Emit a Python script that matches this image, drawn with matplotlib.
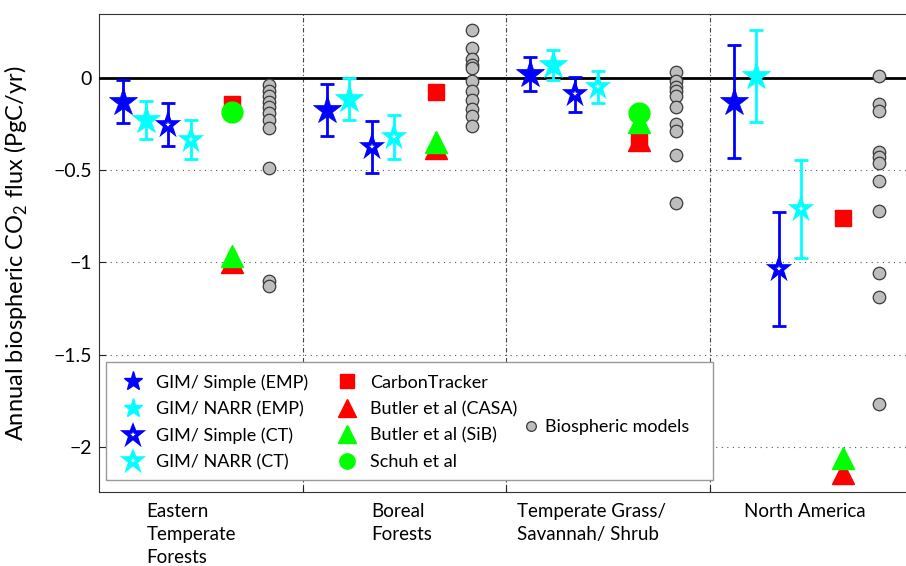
import numpy as np
import matplotlib
matplotlib.use('Agg')
import matplotlib.pyplot as plt
from matplotlib.lines import Line2D
from matplotlib.markers import MarkerStyle
from matplotlib.patches import Rectangle

plt.rcParams['font.family'] = ['Lato', 'DejaVu Sans']
plt.rcParams['mathtext.fontset'] = 'custom'
plt.rcParams['mathtext.rm'] = 'Lato'

# Regions along the x axis
regions = ["Eastern\nTemperate\nForests", "Boreal\nForests",
           "Temperate Grass/\nSavannah/ Shrub", "North America"]

# GIM estimates and their uncertainties (PgC/yr)
simple_emp = [-0.13, -0.175, 0.02, -0.13]
simple_emp_err = [0.115, 0.14, 0.093, 0.305]
narr_emp = [-0.23, -0.115, 0.07, 0.01]
narr_emp_err = [0.103, 0.113, 0.08, 0.25]
simple_ct = [-0.255, -0.375, -0.09, -1.035]
simple_ct_err = [0.117, 0.142, 0.095, 0.31]
narr_ct = [-0.335, -0.32, -0.05, -0.71]
narr_ct_err = [0.108, 0.12, 0.085, 0.266]

# Other inversions
carbontracker = [-0.14, -0.08, -0.34, -0.76]
butler_casa = [-1.0, -0.38, -0.34, -2.14]
butler_sib = [-0.965, -0.35, -0.24, -2.06]
schuh = [-0.185, np.nan, -0.19, np.nan]

# Biospheric models, one list per region
models_etf = [-0.04, -0.07, -0.10, -0.13, -0.16, -0.19, -0.23, -0.27, -0.49, -1.10, -1.13]
models_bf = [0.26, 0.16, 0.10, 0.07, 0.05, -0.02, -0.07, -0.12, -0.17, -0.21, -0.26]
models_tg = [0.03, -0.02, -0.05, -0.07, -0.10, -0.16, -0.25, -0.29, -0.42, -0.68]
models_na = [0.01, -0.14, -0.18, -0.40, -0.43, -0.46, -0.56, -0.72, -1.06, -1.19, -1.77]
models = [models_etf, models_bf, models_tg, models_na]

yticks = [0, -0.5, -1, -1.5, -2]
ytick_labels = ["0", "\u22120.5", "\u22121", "\u22121.5", "\u22122"]

W, H = 906, 566
fig = plt.figure(figsize=(W/100, H/100), dpi=100)
ax = fig.add_axes([99/W, 74/H, (W-99)/W, 478/H])

base = np.arange(len(regions))
BLUE, CYAN, RED, GREEN = '#0000ff', '#00ffff', '#ff0000', '#00ff00'
star = MarkerStyle('*', joinstyle='miter')

# GIM series: (values, errors, colour, filled?, offset)
gim = [(simple_emp, simple_emp_err, BLUE, True, 0.12),
       (narr_emp, narr_emp_err, CYAN, True, 0.23),
       (simple_ct, simple_ct_err, BLUE, False, 0.34),
       (narr_ct, narr_ct_err, CYAN, False, 0.45)]
for vals, errs, col, filled, off in gim:
    ax.errorbar(base + off, vals, yerr=errs, fmt='none', ecolor=col,
                elinewidth=2, capsize=5, capthick=2, zorder=5)
    if filled:
        ax.plot(base + off, vals, marker=star, ms=21, color=col, mec=col,
                mew=0.5, ls='none', zorder=6)
    else:
        ax.plot(base + off, vals, marker=star, ms=12.5, mfc='white', mec=col,
                mew=2.6, ls='none', zorder=6)

ax.plot(base + 0.655, carbontracker, 's', ms=11, color=RED, ls='none', zorder=6)
ax.plot(base + 0.655, butler_casa, '^', ms=16, color=RED, ls='none', zorder=6)
ax.plot(base + 0.655, butler_sib, '^', ms=16, color=GREEN, ls='none', zorder=6)
ax.plot(base + 0.655, schuh, 'o', ms=15, color=GREEN, ls='none', zorder=6)

for i, m in enumerate(models):
    ax.plot(np.full(len(m), i + 0.835), m, 'o', ms=9, mfc='#bdbdbd',
            mec='#3a3a3a', mew=0.9, ls='none', zorder=6)

# Axes cosmetics
ax.set_xlim(0, (W-99)/203.5)
ax.set_ylim(-2.244, 0.345)
ax.axhline(0, color='black', lw=2, zorder=4)
for y in yticks[1:]:
    ax.axhline(y, color='#555555', lw=0.8, ls=(0, (1, 4)), zorder=1)
for x in [1, 2, 3]:
    ax.axvline(x, color='#444444', lw=0.8, ls=(0, (4, 2, 1, 2)), zorder=1)

ax.set_yticks(yticks)
ax.set_yticklabels(ytick_labels, fontsize=14)
ax.set_xticks([1, 2, 3])
ax.set_xticklabels([])
ax.tick_params(direction='in', length=5, width=0.8, pad=5, colors='#222222')
ax.tick_params(axis='y', labelcolor='black')
ax.spines['right'].set_visible(False)
for s in ['left', 'top', 'bottom']:
    ax.spines[s].set_color('#333333')
ax.set_ylabel("Annual biospheric CO$_\\mathregular{2}$ flux (PgC/yr)", fontsize=17)
ax.yaxis.set_label_coords(-0.086, 0.5)

# Region labels under the axis
label_x = [146.7, 371.7, 516.7, 744.3]
for lx, name in zip(label_x, regions):
    fig.text(lx/W, 1 - 503/H, name, ha='left', va='top', fontsize=13.5,
             linespacing=1.42)

# Legend frame and entries
fig.patches.append(Rectangle((105.7/W, (H-480)/H), 607/W, 118/H,
                             transform=fig.transFigure, facecolor='white',
                             edgecolor='#999999', lw=1, zorder=10))
handles = [
    Line2D([], [], marker=star, ms=14, color=BLUE, ls='none'),
    Line2D([], [], marker=star, ms=14, color=CYAN, ls='none'),
    Line2D([], [], marker=star, ms=12, mfc='white', mec=BLUE, mew=2.6, ls='none'),
    Line2D([], [], marker=star, ms=12, mfc='white', mec=CYAN, mew=2.6, ls='none'),
    Line2D([], [], marker='s', ms=10, color=RED, ls='none'),
    Line2D([], [], marker='^', ms=13, color=RED, ls='none'),
    Line2D([], [], marker='^', ms=13, color=GREEN, ls='none'),
    Line2D([], [], marker='o', ms=11, color=GREEN, ls='none'),
]
labels = ["GIM/ Simple (EMP)", "GIM/ NARR (EMP)", "GIM/ Simple (CT)",
          "GIM/ NARR (CT)", "CarbonTracker", "Butler et al (CASA)",
          "Butler et al (SiB)", "Schuh et al"]
leg1 = fig.legend(handles, labels, ncol=2, frameon=False, fontsize=13,
                  loc='upper left', bbox_to_anchor=(124/W, 1 - 374/H),
                  borderpad=0, borderaxespad=0, handlelength=1.0,
                  handletextpad=0.8, columnspacing=1.6, labelspacing=0.58)
leg1.set_zorder(11)
leg2 = fig.legend([Line2D([], [], marker='o', ms=7, mfc='#bdbdbd', mec='#3a3a3a',
                          mew=0.9, ls='none')], ["Biospheric models"],
                  frameon=False, fontsize=13, loc='center left',
                  bbox_to_anchor=(522/W, 1 - 427/H), borderpad=0,
                  borderaxespad=0, handlelength=1.0, handletextpad=0.3)
leg2.set_zorder(11)

fig.savefig('out.png', dpi=100)
